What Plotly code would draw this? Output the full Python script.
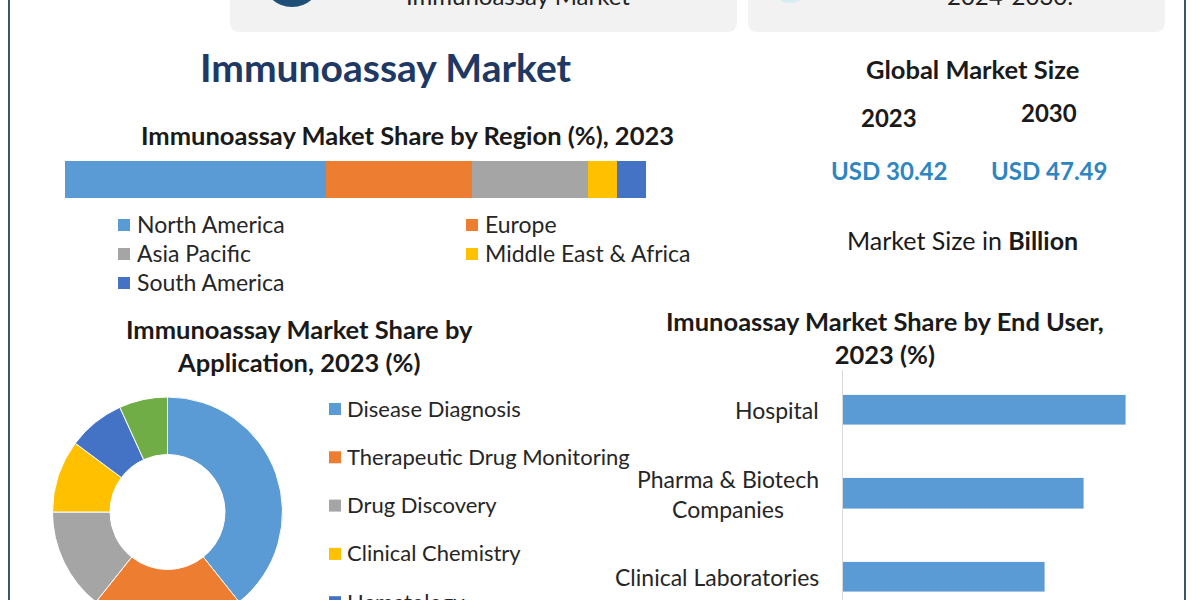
import plotly.graph_objects as go

# ---------------- data ----------------
regions = ["North America", "Europe", "Asia Pacific", "Middle East & Africa", "South America"]
region_share = [45, 25, 20, 5, 5]
region_colors = ["#5b9bd5", "#ed7d31", "#a5a5a5", "#ffc000", "#4472c4"]

applications = ["Disease Diagnosis", "Therapeutic Drug Monitoring", "Drug Discovery",
                "Clinical Chemistry", "Hematology", "Others"]
application_share = [39.3, 21.4, 14.3, 10.2, 8.0, 6.8]
application_colors = ["#5b9bd5", "#ed7d31", "#a5a5a5", "#ffc000", "#4472c4", "#70ad47"]

end_users = ["Hospital", "Pharma & Biotech<br>Companies", "Clinical Laboratories"]
end_user_share = [42, 35.8, 30]

market_years = ["2023", "2030"]
market_values = ["USD 30.42", "USD 47.49"]

W, H = 1200, 640
FONT = "Lato"


def px(x):
    return x / W


def py(y):
    return 1 - y / H


fig = go.Figure()

# stacked region bar
for name, val, col in zip(regions, region_share, region_colors):
    fig.add_trace(go.Bar(x=[val], y=[0], orientation="h", name=name,
                         marker=dict(color=col, line=dict(width=0)),
                         width=1, xaxis="x", yaxis="y", showlegend=False,
                         hoverinfo="x+name"))

# donut
fig.add_trace(go.Pie(labels=applications, values=application_share, hole=0.5,
                     sort=False, direction="clockwise", rotation=0,
                     marker=dict(colors=application_colors, line=dict(color="white", width=1)),
                     textinfo="none", showlegend=False,
                     domain=dict(x=[px(52), px(283)], y=[py(627), py(397)])))

# end user bars
fig.add_trace(go.Bar(x=end_user_share, y=end_users, orientation="h",
                     marker=dict(color="#5b9bd5"), width=0.36,
                     xaxis="x2", yaxis="y2", showlegend=False))

shapes = []
annotations = []

# border lines
shapes.append(dict(type="line", xref="paper", yref="paper", x0=px(9), x1=px(9), y0=0, y1=1,
                   line=dict(color="#3d5566", width=2)))
shapes.append(dict(type="line", xref="paper", yref="paper", x0=px(1185), x1=px(1185), y0=0, y1=1,
                   line=dict(color="#3d5566", width=2)))


def rrect(x0, y0, x1, y1, r):
    X0, X1 = px(x0), px(x1)
    Y0, Y1 = py(y0), py(y1)
    rx, ry = r / W, r / H
    return (f"M {X0+rx},{Y0} L {X1-rx},{Y0} Q {X1},{Y0} {X1},{Y0-ry} "
            f"L {X1},{Y1+ry} Q {X1},{Y1} {X1-rx},{Y1} L {X0+rx},{Y1} "
            f"Q {X0},{Y1} {X0},{Y1+ry} L {X0},{Y0-ry} Q {X0},{Y0} {X0+rx},{Y0} Z")


shapes.append(dict(type="path", xref="paper", yref="paper", path=rrect(230, -20, 737, 32, 10),
                   fillcolor="#f2f2f2", line=dict(width=0), layer="below"))
shapes.append(dict(type="path", xref="paper", yref="paper", path=rrect(748, -20, 1165, 32, 10),
                   fillcolor="#f2f2f2", line=dict(width=0), layer="below"))
shapes.append(dict(type="circle", xref="paper", yref="paper", x0=px(262), x1=px(322),
                   y0=py(7), y1=py(-53), fillcolor="#1f4e79", line=dict(width=0)))
shapes.append(dict(type="circle", xref="paper", yref="paper", x0=px(770), x1=px(810),
                   y0=py(3), y1=py(-37), fillcolor="#d6ecf7", line=dict(width=0)))

annotations.append(dict(text="Immunoassay Market", xref="paper", yref="paper", x=px(518), y=py(-5),
                        xanchor="center", yanchor="middle", showarrow=False,
                        font=dict(family=FONT, size=24, color="#222222")))
annotations.append(dict(text="2024-2030:", xref="paper", yref="paper", x=px(1010), y=py(-5),
                        xanchor="center", yanchor="middle", showarrow=False,
                        font=dict(family=FONT, size=24, color="#222222")))


def txt(t, x, y, size, color="#1a1a1a", bold=False, xanchor="center", align="center"):
    if bold:
        t = f"<b>{t}</b>"
    annotations.append(dict(text=t, xref="paper", yref="paper", x=px(x), y=py(y),
                            xanchor=xanchor, yanchor="middle", align=align, showarrow=False,
                            font=dict(family=FONT, size=size, color=color)))


def square(x, y, col, s=12):
    shapes.append(dict(type="rect", xref="paper", yref="paper", x0=px(x), x1=px(x + s),
                       y0=py(y + s / 2), y1=py(y - s / 2), fillcolor=col, line=dict(width=0)))


txt("Immunoassay Market", 386, 67, 39, color="#203864", bold=True)
txt("Immunoassay Maket Share by Region (%), 2023", 407, 135, 25.5, bold=True)
txt("Global Market Size", 972, 69, 25.5, bold=True)
txt(market_years[0], 889, 118, 24, bold=True)
txt(market_years[1], 1049, 113, 24, bold=True)
txt(market_values[0], 889, 170, 24, color="#2e86c1", bold=True)
txt(market_values[1], 1049, 170, 24, color="#2e86c1", bold=True)
txt("Market Size in <b>Billion</b>", 962, 240, 25)
txt("Immunoassay Market Share by<br>Application, 2023 (%)", 299, 345, 25.5, bold=True)
txt("Imunoassay Market Share by End User,<br>2023 (%)", 885, 337, 25.5, bold=True)

# region legend
reg_pos = [(118, 224), (466, 224), (118, 253), (466, 253), (118, 282)]
for (lx, ly), name, col in zip(reg_pos, regions, region_colors):
    square(lx, ly + 1, col)
    txt(name, lx + 17, ly, 23, color="#262626", xanchor="left")

# application legend
for i, (name, col) in enumerate(zip(applications, application_colors)):
    ly = 408 + i * 48.3
    square(329, ly + 1, col, 12)
    txt(name, 345, ly, 22, color="#262626", xanchor="left")

# end user tick labels
for name in end_users:
    annotations.append(dict(text=name, xref="paper", yref="y2", x=px(821), y=name,
                            xanchor="right", yanchor="middle", align="center", showarrow=False,
                            font=dict(family=FONT, size=23, color="#262626")))

# end-user y range: index 0 at y=410, 83.5 px per category, domain 370..640
top_idx = -(410 - 370) / 83.5
bot_idx = top_idx + (H - 370) / 83.5

fig.update_layout(
    width=W, height=H, margin=dict(l=0, r=0, t=0, b=0),
    paper_bgcolor="white", plot_bgcolor="rgba(0,0,0,0)",
    barmode="stack", bargap=0,
    font=dict(family=FONT),
    xaxis=dict(domain=[px(65), px(646)], range=[0, 100], visible=False, fixedrange=True),
    yaxis=dict(domain=[py(198), py(161)], range=[-0.5, 0.5], visible=False, fixedrange=True),
    xaxis2=dict(domain=[px(843), px(1180)], range=[0, 50], visible=False, anchor="y2"),
    yaxis2=dict(domain=[0, py(370)], range=[bot_idx, top_idx], anchor="x2",
                showline=True, linecolor="#d9d9d9", linewidth=1, showticklabels=False,
                ticks="", showgrid=False, zeroline=False, type="category"),
    shapes=shapes, annotations=annotations,
)

fig.write_html("out.html",
               post_script="document.body.style.margin='0';document.body.style.overflow='hidden';")
